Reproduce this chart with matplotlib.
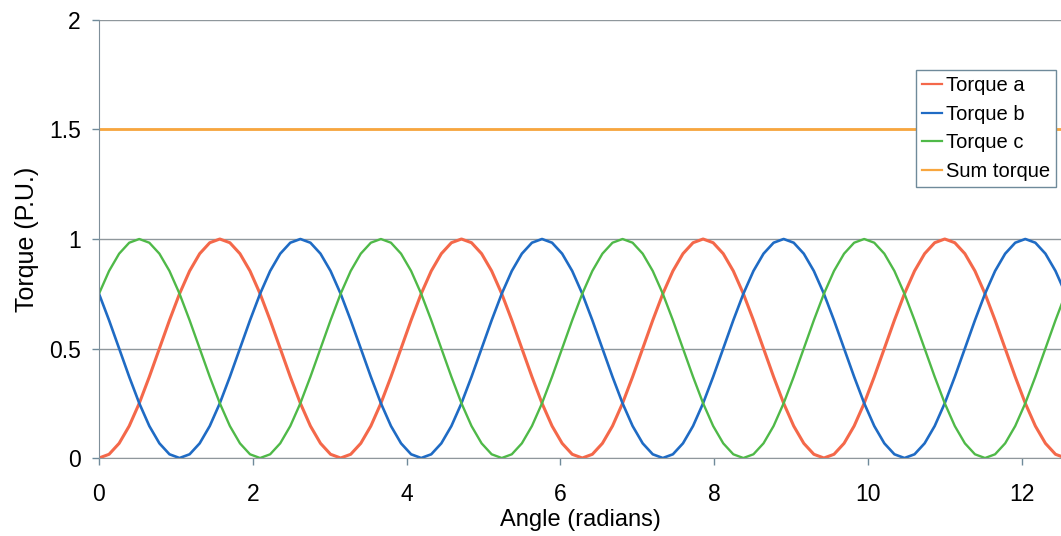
import numpy as np
import matplotlib.pyplot as plt

plt.rcParams.update({
    "font.family": ["Liberation Sans", "DejaVu Sans"],
    "font.size": 14,
})

# ---------------- Data ----------------
angle_deg = [
    0.0, 7.5, 15.0, 22.5, 30.0, 37.5, 45.0, 52.5, 60.0, 67.5, 75.0, 82.5,
    90.0, 97.5, 105.0, 112.5, 120.0, 127.5, 135.0, 142.5, 150.0, 157.5, 165.0, 172.5,
    180.0, 187.5, 195.0, 202.5, 210.0, 217.5, 225.0, 232.5, 240.0, 247.5, 255.0, 262.5,
    270.0, 277.5, 285.0, 292.5, 300.0, 307.5, 315.0, 322.5, 330.0, 337.5, 345.0, 352.5,
    360.0, 367.5, 375.0, 382.5, 390.0, 397.5, 405.0, 412.5, 420.0, 427.5, 435.0, 442.5,
    450.0, 457.5, 465.0, 472.5, 480.0, 487.5, 495.0, 502.5, 510.0, 517.5, 525.0, 532.5,
    540.0, 547.5, 555.0, 562.5, 570.0, 577.5, 585.0, 592.5, 600.0, 607.5, 615.0, 622.5,
    630.0, 637.5, 645.0, 652.5, 660.0, 667.5, 675.0, 682.5, 690.0, 697.5, 705.0, 712.5,
    720.0,
]

torque_a = [
    0.000, 0.017, 0.067, 0.146, 0.250, 0.371, 0.500, 0.629, 0.750, 0.854, 0.933, 0.983,
    1.000, 0.983, 0.933, 0.854, 0.750, 0.629, 0.500, 0.371, 0.250, 0.146, 0.067, 0.017,
    0.000, 0.017, 0.067, 0.146, 0.250, 0.371, 0.500, 0.629, 0.750, 0.854, 0.933, 0.983,
    1.000, 0.983, 0.933, 0.854, 0.750, 0.629, 0.500, 0.371, 0.250, 0.146, 0.067, 0.017,
    0.000, 0.017, 0.067, 0.146, 0.250, 0.371, 0.500, 0.629, 0.750, 0.854, 0.933, 0.983,
    1.000, 0.983, 0.933, 0.854, 0.750, 0.629, 0.500, 0.371, 0.250, 0.146, 0.067, 0.017,
    0.000, 0.017, 0.067, 0.146, 0.250, 0.371, 0.500, 0.629, 0.750, 0.854, 0.933, 0.983,
    1.000, 0.983, 0.933, 0.854, 0.750, 0.629, 0.500, 0.371, 0.250, 0.146, 0.067, 0.017,
    0.000,
]

torque_b = [
    0.750, 0.629, 0.500, 0.371, 0.250, 0.146, 0.067, 0.017, 0.000, 0.017, 0.067, 0.146,
    0.250, 0.371, 0.500, 0.629, 0.750, 0.854, 0.933, 0.983, 1.000, 0.983, 0.933, 0.854,
    0.750, 0.629, 0.500, 0.371, 0.250, 0.146, 0.067, 0.017, 0.000, 0.017, 0.067, 0.146,
    0.250, 0.371, 0.500, 0.629, 0.750, 0.854, 0.933, 0.983, 1.000, 0.983, 0.933, 0.854,
    0.750, 0.629, 0.500, 0.371, 0.250, 0.146, 0.067, 0.017, 0.000, 0.017, 0.067, 0.146,
    0.250, 0.371, 0.500, 0.629, 0.750, 0.854, 0.933, 0.983, 1.000, 0.983, 0.933, 0.854,
    0.750, 0.629, 0.500, 0.371, 0.250, 0.146, 0.067, 0.017, 0.000, 0.017, 0.067, 0.146,
    0.250, 0.371, 0.500, 0.629, 0.750, 0.854, 0.933, 0.983, 1.000, 0.983, 0.933, 0.854,
    0.750,
]

torque_c = [
    0.750, 0.854, 0.933, 0.983, 1.000, 0.983, 0.933, 0.854, 0.750, 0.629, 0.500, 0.371,
    0.250, 0.146, 0.067, 0.017, 0.000, 0.017, 0.067, 0.146, 0.250, 0.371, 0.500, 0.629,
    0.750, 0.854, 0.933, 0.983, 1.000, 0.983, 0.933, 0.854, 0.750, 0.629, 0.500, 0.371,
    0.250, 0.146, 0.067, 0.017, 0.000, 0.017, 0.067, 0.146, 0.250, 0.371, 0.500, 0.629,
    0.750, 0.854, 0.933, 0.983, 1.000, 0.983, 0.933, 0.854, 0.750, 0.629, 0.500, 0.371,
    0.250, 0.146, 0.067, 0.017, 0.000, 0.017, 0.067, 0.146, 0.250, 0.371, 0.500, 0.629,
    0.750, 0.854, 0.933, 0.983, 1.000, 0.983, 0.933, 0.854, 0.750, 0.629, 0.500, 0.371,
    0.250, 0.146, 0.067, 0.017, 0.000, 0.017, 0.067, 0.146, 0.250, 0.371, 0.500, 0.629,
    0.750,
]

sum_torque = [1.5] * len(angle_deg)

series_names = ["Torque a", "Torque b", "Torque c", "Sum torque"]
x_ticks = [0, 2, 4, 6, 8, 10, 12]
y_ticks = [0, 0.5, 1, 1.5, 2]
y_tick_labels = ["0", "0.5", "1", "1.5", "2"]

# ---------------- Plot ----------------
angle = np.deg2rad(angle_deg)

fig = plt.figure(figsize=(10.61, 5.36), dpi=100)
ax = fig.add_axes([0.0933, 0.1455, 0.9067, 0.8172])

grid_col = "#8f979c"
ax.set_axisbelow(True)
ax.yaxis.grid(True, color=grid_col, linewidth=1.0)
ax.xaxis.grid(False)

colors = ["#f4684a", "#1f6bc4", "#4fb948", "#f8a63e"]
widths = [2.2, 1.9, 1.7, 2.0]
for vals, name, c, lw in zip([torque_a, torque_b, torque_c, sum_torque],
                             series_names, colors, widths):
    ax.plot(angle, vals, color=c, linewidth=lw, label=name)

ax.set_xlim(0, 12.507)
ax.set_ylim(0, 2)
ax.set_xticks(x_ticks)
ax.set_yticks(y_ticks)
ax.set_yticklabels(y_tick_labels)

for side in ["top", "right"]:
    ax.spines[side].set_visible(False)
ax.spines["left"].set_color("#7f8f9a")
ax.spines["bottom"].set_color(grid_col)
ax.tick_params(axis="both", direction="out", length=5, width=1.0,
               color="#6f8a9a", labelsize=16.5)
ax.tick_params(axis="x", pad=13)
ax.tick_params(axis="y", pad=8)

ax.set_xlabel("Angle (radians)", fontsize=17, labelpad=2)
ax.set_ylabel("Torque (P.U.)", fontsize=18, labelpad=7)

leg = ax.legend(loc="upper right", bbox_to_anchor=(0.9948, 0.886),
                fontsize=14.5, frameon=True, fancybox=False, framealpha=1,
                handlelength=1.0, handletextpad=0.2, borderpad=0.3,
                labelspacing=0.48, borderaxespad=0)
leg.get_frame().set_edgecolor("#6f8a9a")
leg.get_frame().set_linewidth(1.0)
for line in leg.get_lines():
    line.set_linewidth(1.6)

fig.savefig("out.png", dpi=100)
